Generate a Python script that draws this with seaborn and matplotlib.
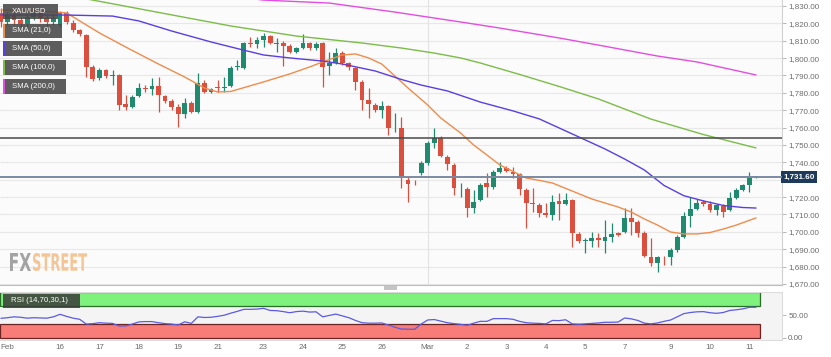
import matplotlib
matplotlib.use('Agg')
import numpy as np
import pandas as pd
import matplotlib.pyplot as plt
from matplotlib.patches import Rectangle, PathPatch
from matplotlib.textpath import TextPath
from matplotlib.font_manager import FontProperties
from matplotlib.transforms import Affine2D, IdentityTransform, blended_transform_factory
import seaborn as sns

# XAU/USD 4h candles, 15 Feb - 11 Mar
opens = [1826.0, 1820.8, 1824.8, 1821.9, 1819.6, 1823.7, 1826.5, 1823.1, 1820.8, 1819.1,
         1826.0, 1820.2, 1816.2, 1813.3, 1794.9, 1788.6, 1793.1, 1789.7, 1790.3, 1773.6,
         1771.9, 1778.2, 1782.8, 1782.2, 1783.9, 1778.2, 1775.3, 1771.9, 1767.8, 1774.2,
         1769.0, 1785.7, 1780.5, 1783.4, 1782.8, 1783.9, 1794.9, 1794.3, 1808.7, 1808.1,
         1810.4, 1812.7, 1808.4, 1808.7, 1807.0, 1803.5, 1805.8, 1808.7, 1805.8, 1808.7,
         1795.5, 1797.2, 1802.9, 1797.2, 1794.3, 1786.3, 1775.9, 1773.0, 1770.1, 1772.4,
         1759.5, 1759.8, 1729.9, 1727.5, 1733.9, 1739.6, 1751.2, 1754.0, 1743.1, 1738.5,
         1725.0, 1724.7, 1713.7, 1718.4, 1728.1, 1725.8, 1734.5, 1736.8, 1734.5, 1733.3,
         1724.1, 1716.6, 1715.5, 1710.9, 1709.7, 1717.8, 1716.0, 1718.4, 1698.8, 1695.0,
         1694.8, 1696.5, 1694.8, 1697.1, 1699.3, 1699.9, 1708.0, 1705.7, 1699.3, 1685.5,
         1682.1, 1685.5, 1685.3, 1689.6, 1697.1, 1709.2, 1713.2, 1717.2, 1716.0, 1712.6,
         1714.9, 1712.6, 1719.5, 1724.1, 1727.0, 1731.5]
highs = [1828.9, 1826.5, 1827.1, 1823.7, 1826.0, 1828.3, 1827.7, 1824.8, 1825.4, 1827.1,
         1827.1, 1821.9, 1816.8, 1813.9, 1796.0, 1794.3, 1793.7, 1793.1, 1790.9, 1778.8,
         1778.8, 1785.7, 1784.5, 1788.6, 1789.1, 1778.8, 1776.5, 1773.6, 1777.1, 1775.3,
         1791.4, 1787.4, 1782.8, 1787.4, 1789.1, 1795.5, 1798.9, 1809.3, 1812.2, 1812.2,
         1814.5, 1813.3, 1811.6, 1809.9, 1808.1, 1806.4, 1813.9, 1809.3, 1809.3, 1809.3,
         1803.5, 1805.8, 1804.1, 1797.8, 1794.9, 1787.4, 1782.8, 1774.2, 1775.3, 1773.0,
         1768.4, 1766.1, 1731.6, 1729.9, 1740.8, 1752.3, 1759.8, 1755.2, 1744.2, 1739.6,
         1728.1, 1725.8, 1724.1, 1728.1, 1733.9, 1735.6, 1740.2, 1737.9, 1737.3, 1733.9,
         1725.3, 1725.3, 1716.6, 1716.6, 1721.2, 1722.4, 1722.4, 1718.9, 1699.9, 1696.5,
         1699.9, 1699.3, 1706.9, 1705.1, 1699.9, 1713.7, 1713.7, 1706.9, 1700.5, 1696.5,
         1686.1, 1686.1, 1690.7, 1698.2, 1711.4, 1720.1, 1718.9, 1718.4, 1717.8, 1716.0,
         1716.0, 1723.0, 1725.3, 1727.5, 1734.5, 1732.2]
lows = [1817.9, 1819.1, 1819.6, 1817.3, 1817.9, 1821.9, 1820.8, 1818.5, 1819.1, 1817.9,
        1819.6, 1815.0, 1812.7, 1789.1, 1786.8, 1787.4, 1788.6, 1784.5, 1770.1, 1770.1,
        1771.3, 1777.6, 1780.5, 1778.8, 1769.0, 1774.2, 1770.1, 1760.4, 1765.5, 1768.4,
        1768.4, 1779.9, 1779.9, 1780.5, 1780.5, 1783.4, 1793.1, 1793.7, 1806.4, 1805.8,
        1806.4, 1808.1, 1803.5, 1795.5, 1802.9, 1802.9, 1805.3, 1804.7, 1804.7, 1783.4,
        1790.3, 1796.6, 1796.0, 1793.1, 1781.6, 1770.1, 1765.5, 1769.0, 1765.5, 1755.8,
        1757.5, 1725.3, 1717.2, 1727.0, 1732.7, 1738.5, 1748.3, 1743.1, 1735.6, 1721.2,
        1720.1, 1708.6, 1710.9, 1717.8, 1720.1, 1724.7, 1733.9, 1734.5, 1731.0, 1721.2,
        1702.2, 1711.4, 1708.6, 1708.6, 1706.9, 1706.9, 1715.5, 1691.3, 1693.6, 1687.9,
        1691.3, 1691.3, 1687.9, 1694.2, 1697.6, 1699.3, 1698.2, 1697.1, 1685.5, 1680.4,
        1676.9, 1680.9, 1680.9, 1688.4, 1696.5, 1702.8, 1712.6, 1714.9, 1711.4, 1709.7,
        1708.6, 1712.0, 1718.9, 1723.5, 1723.0, 1731.0]
closes = [1820.8, 1824.8, 1821.9, 1819.6, 1823.7, 1826.5, 1823.1, 1820.8, 1823.1, 1826.0,
          1820.8, 1816.2, 1813.9, 1794.9, 1788.0, 1793.1, 1789.7, 1790.3, 1773.0, 1771.9,
          1777.6, 1782.8, 1782.2, 1783.9, 1778.8, 1775.3, 1771.9, 1767.8, 1774.2, 1769.0,
          1785.7, 1780.5, 1782.2, 1782.8, 1783.4, 1794.3, 1795.5, 1808.7, 1808.1, 1810.4,
          1812.7, 1808.7, 1808.7, 1807.0, 1803.5, 1805.8, 1808.7, 1805.8, 1808.1, 1794.9,
          1797.2, 1802.9, 1797.2, 1794.9, 1786.3, 1775.9, 1773.6, 1770.1, 1772.4, 1759.8,
          1759.8, 1731.0, 1727.5, 1727.3, 1739.6, 1751.2, 1754.0, 1743.7, 1739.1, 1725.3,
          1725.3, 1713.7, 1717.2, 1727.0, 1725.8, 1734.5, 1736.8, 1735.0, 1733.3, 1724.7,
          1716.6, 1716.3, 1710.9, 1709.7, 1717.2, 1716.0, 1718.4, 1699.3, 1694.8, 1695.3,
          1696.5, 1695.3, 1697.1, 1698.8, 1698.2, 1708.0, 1705.7, 1699.3, 1686.1, 1682.1,
          1685.5, 1685.3, 1689.6, 1697.1, 1709.2, 1713.2, 1716.6, 1716.0, 1712.6, 1715.5,
          1711.4, 1719.5, 1724.1, 1727.0, 1731.6, 1731.6]

# moving averages read at a few candles
sma21_idx = [0, 6, 10, 11, 15, 19, 24, 28, 31, 33, 35, 40, 44, 47, 49, 52, 54, 56, 58, 60, 62,
             65, 67, 70, 72, 76, 80, 82, 84, 87, 90, 92, 94, 96, 98, 100, 102, 104, 106, 108,
             110, 112, 115]
sma21 = [1827.7, 1827.1, 1826.0, 1823.7, 1814.5, 1806.4, 1796.6, 1789.1, 1782.8, 1780.5,
         1780.8, 1786.3, 1790.9, 1794.9, 1797.8, 1801.8, 1802.4, 1800.1, 1796.6, 1789.7,
         1782.8, 1773.0, 1765.5, 1756.9, 1750.0, 1738.5, 1731.0, 1729.6, 1728.1, 1723.5,
         1718.9, 1716.6, 1714.3, 1711.4, 1707.4, 1703.9, 1699.9, 1698.8, 1698.8, 1699.6,
         1701.6, 1703.9, 1708.0]
sma50_idx = [0, 10, 17, 21, 26, 32, 36, 40, 44, 49, 52, 57, 61, 64, 68, 73, 78, 82, 86, 89,
             92, 95, 98, 101, 104, 107, 110, 113, 115]
sma50 = [1824.8, 1824.8, 1824.2, 1821.4, 1815.6, 1809.3, 1805.5, 1801.8, 1800.1, 1798.3,
         1796.6, 1792.6, 1787.7, 1784.5, 1781.1, 1774.7, 1769.6, 1765.0, 1758.1, 1752.9,
         1747.7, 1741.9, 1735.6, 1726.7, 1720.8, 1717.8, 1715.2, 1714.0, 1713.7]
sma100_idx = [0, 14, 24, 35, 45, 55, 61, 66, 70, 73, 79, 85, 91, 99, 107, 115]
sma100 = [1843.2, 1833.4, 1826.3, 1818.5, 1812.7, 1808.7, 1805.8, 1802.9, 1800.1, 1797.2,
          1790.6, 1783.7, 1776.5, 1764.9, 1756.0, 1748.3]
sma200_idx = [30, 40, 50, 60, 70, 76, 85, 91, 100, 106, 115]
sma200 = [1838.0, 1833.4, 1831.7, 1826.5, 1820.8, 1817.3, 1811.6, 1807.5, 1801.2, 1797.8, 1790.3]

rsi = [42.7, 44, 46, 45, 43, 44, 43.5, 43, 46, 51.5,
       47, 43, 40.5, 30, 31, 33, 32, 31.5, 25.8, 25.8,
       30, 34.8, 35.5, 35.5, 33, 31, 30, 28, 35, 31.5,
       46, 44.5, 45, 47, 49.5, 54, 58, 62.5, 62.5, 63,
       64.7, 60, 59.5, 57.5, 55, 57.5, 58.5, 56.5, 57, 46,
       49, 52, 48, 44, 38, 33, 32, 32, 32.5, 28,
       23, 19, 18.7, 18.5, 30, 39, 40, 36.5, 33, 31,
       29.5, 27.3, 32, 36, 36, 42, 42, 42, 40.5, 36,
       33, 32, 31.5, 30.5, 38, 37.6, 39.5, 30.5, 29.7, 30.5,
       31.5, 32.5, 34, 34, 34.5, 43.4, 41.5, 38, 32, 30.5,
       32.5, 36, 39, 46, 53, 55.5, 57, 57.4, 55, 53.7,
       55.5, 60, 61.5, 63.5, 67, 67]

tick_idx = [1, 9, 15, 21, 27, 33, 40, 46, 52, 58, 65, 71, 77, 83, 89, 95, 102, 108, 114]
tick_lbl = ['Feb', '16', '17', '18', '19', '21', '23', '24', '25', '26',
            'Mar', '2', '3', '4', '5', '7', '9', '10', '11']
resistance = 1754.0

sns.set_style('white')
plt.rcParams['font.family'] = ['Liberation Sans', 'DejaVu Sans']

W, H = 831, 357
up_col, dn_col = '#1f8a6e', '#da4f3e'
grey_txt = '#6b6b6b'

fig = plt.figure(figsize=(W / 100, H / 100), dpi=100)
ax = fig.add_axes([0, 1 - 285 / H, 782 / W, 285 / H])
ax_rsi = fig.add_axes([0, 1 - 340 / H, 782 / W, 48 / H])

df = pd.DataFrame({'open': opens, 'high': highs, 'low': lows, 'close': closes})
n = len(df)
xs = np.arange(n)
cols = np.where(df['close'] >= df['open'], up_col, dn_col)
body_lo = df[['open', 'close']].min(axis=1)
body_h = (df['close'] - df['open']).abs().clip(lower=0.5)

ax.set_facecolor('#fbfbfb')
ax.set_xlim(-0.14, 118.96)
ax.set_ylim(1669.4, 1833.45)
yt = np.arange(1670, 1831, 10)
ax.set_yticks(yt)
# the 1,730 label sits under the last-price tag
ax.set_yticklabels(['' if abs(v - closes[-1]) < 5 else f'{v:,.2f}' for v in yt])
ax.yaxis.tick_right()
ax.set_xticks([])
ax.grid(axis='y', color='#e8e8e8', lw=0.8)
ax.axvline(65, color='#e3e3e3', lw=0.8, zorder=1)

ax.vlines(xs, df['low'], df['high'], colors=cols, lw=0.9, zorder=3)
ax.bar(xs, body_h, bottom=body_lo, width=0.74, color=cols, lw=0, zorder=4)

sns.lineplot(x=sma21_idx, y=sma21, ax=ax, color='#ef8c4c', lw=1.0, zorder=5)
sns.lineplot(x=sma50_idx, y=sma50, ax=ax, color='#5a3fe0', lw=1.0, zorder=5)
sns.lineplot(x=sma100_idx, y=sma100, ax=ax, color='#7cbc48', lw=1.0, zorder=5)
sns.lineplot(x=sma200_idx, y=sma200, ax=ax, color='#e24fe0', lw=1.0, zorder=5)

ax.axhline(resistance, color='#4a4a4a', lw=1.1, zorder=6)
ax.axhline(closes[-1], color='#7b8aa1', lw=1.4, zorder=6)
tr = blended_transform_factory(ax.transAxes, ax.transData)
ax.text(1.002, closes[-1], f'{closes[-1]:,.2f}', transform=tr, ha='left', va='center',
        color='white', fontsize=5.8, fontweight='bold',
        bbox=dict(boxstyle='square,pad=0.3', fc='#1e3a5a', ec='none'))

ax.tick_params(axis='y', right=True, left=False, length=3, width=0.6, color='#aaaaaa',
               labelsize=5.8, labelcolor=grey_txt, pad=1.5)
for s in ['left', 'top']:
    ax.spines[s].set_visible(False)
ax.spines['right'].set_color('#d0d0d0')
ax.spines['bottom'].set_color('#bdbdbd')
ax.spines['right'].set_linewidth(0.8)
ax.spines['bottom'].set_linewidth(0.8)

# RSI panel
ax_rsi.set_facecolor('#f4f4f4')
ax_rsi.set_xlim(ax.get_xlim())
ax_rsi.set_ylim(-5.1, 100.7)
band_w = n - 0.45 + 0.14
ax_rsi.add_patch(Rectangle((-0.14, 70), band_w, 30, fc='#7ef27c', ec='#2a6e2a', lw=0.9, zorder=2))
ax_rsi.add_patch(Rectangle((-0.14, 0), band_w, 30, fc='#f87c78', ec='#6a2424', lw=0.9, zorder=2))
sns.lineplot(x=xs, y=rsi, ax=ax_rsi, color='#5b5be0', lw=0.9, zorder=4)
ax_rsi.set_yticks([0, 50])
ax_rsi.set_yticklabels(['0.00', '50.00'])
ax_rsi.yaxis.tick_right()
ax_rsi.set_xticks(tick_idx)
ax_rsi.set_xticklabels(tick_lbl)
ax_rsi.tick_params(axis='y', right=True, left=False, length=3, width=0.6, color='#aaaaaa',
                   labelsize=5.8, labelcolor=grey_txt, pad=1.5)
ax_rsi.tick_params(axis='x', length=0, labelsize=5.8, labelcolor=grey_txt, pad=3)
for s in ax_rsi.spines.values():
    s.set_color('#dcdcdc')
    s.set_linewidth(0.8)
ax_rsi.spines['left'].set_visible(False)


def box(x0, y0, x1, y1, **kw):
    r = Rectangle((x0 / W, 1 - y1 / H), (x1 - x0) / W, (y1 - y0) / H,
                  transform=fig.transFigure, **kw)
    fig.patches.append(r)


# panel grip
box(384, 286, 397, 290, fc='#c4c4c4', ec='none')

# legend labels
leg_names = ['XAU/USD', 'SMA (21,0)', 'SMA (50,0)', 'SMA (100,0)', 'SMA (200,0)']
leg_cols = [None, '#ef8c4c', '#5a3fe0', '#7cbc48', '#e24fe0']
leg_y = [(4, 19), (24, 38), (41, 56), (60, 75), (79, 94)]
leg_w = [58, 62, 62, 66, 66]
for name, c, (y0, y1), w in zip(leg_names, leg_cols, leg_y, leg_w):
    box(3, y0, w, y1, fc='#474747', ec='none', alpha=0.88, zorder=10)
    if c:
        box(3, y0, 5, y1, fc=c, ec='none', zorder=11)
    fig.text(12 / W, 1 - (y0 + y1) / 2 / H, name, color='white', fontsize=5.6,
             va='center', ha='left', zorder=12)

box(3, 294, 80, 308, fc='#3a3a3a', ec='none', alpha=0.85, zorder=10)
fig.text(11 / W, 1 - 301 / H, 'RSI (14,70,30,1)', color='white', fontsize=5.6,
         va='center', ha='left', zorder=12)

# FXSTREET watermark
fp = FontProperties(family='DejaVu Sans', weight='bold')
for word, (x0, x1), c in [('FX', (10, 31), '#9a9a9a'), ('STREET', (33, 87), '#f3c08c')]:
    tp = TextPath((0, 0), word, size=10, prop=fp)
    ext = tp.get_extents()
    sx = (x1 - x0) / ext.width
    sy = 18 / ext.height
    t = Affine2D().translate(-ext.x0, -ext.y0).scale(sx, sy).translate(x0, H - 271)
    fig.patches.append(PathPatch(t.transform_path(tp), fc=c, ec='none', alpha=0.9,
                                 transform=IdentityTransform(), zorder=9))

fig.savefig('out.png', dpi=100)
